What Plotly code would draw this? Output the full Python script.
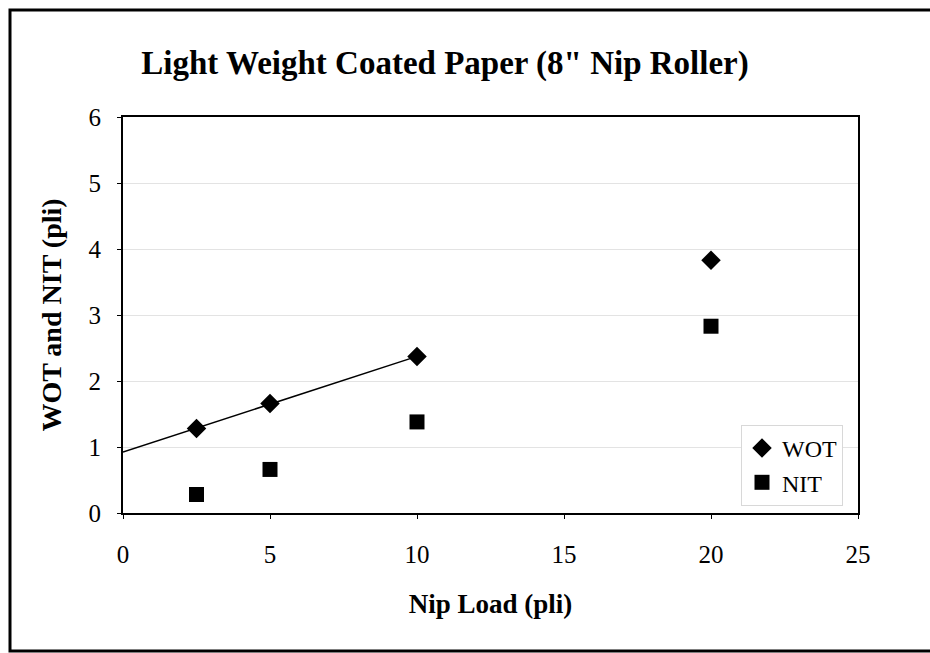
import numpy as np
import plotly.graph_objects as go

nip_load = [2.5, 5, 10, 20]
wot = [1.28, 1.66, 2.37, 3.83]
nit = [0.28, 0.66, 1.38, 2.83]
fit_n = 3  # trendline fitted to first three WOT points
x_ticks = [0, 5, 10, 15, 20, 25]
y_ticks = [0, 1, 2, 3, 4, 5, 6]

W, H = 930, 653
L, T = 123, 117
pw, ph = 735, 396
R, B = W - L - pw, H - T - ph

def px(x):
    return (x - L) / pw

def py(y):
    return (T + ph - y) / ph

font = "Liberation Serif, Times New Roman, serif"

coef = np.polyfit(nip_load[:fit_n], wot[:fit_n], 1)
fx = np.array([0, nip_load[fit_n - 1]])
fy = np.polyval(coef, fx)

fig = go.Figure()
fig.add_trace(go.Scatter(x=fx, y=fy, mode="lines", line=dict(color="black", width=1.5),
                         showlegend=False, hoverinfo="skip"))
fig.add_trace(go.Scatter(x=nip_load, y=wot, mode="markers", name="WOT",
                         marker=dict(symbol="diamond", size=15, color="black")))
fig.add_trace(go.Scatter(x=nip_load, y=nit, mode="markers", name="NIT",
                         marker=dict(symbol="square", size=15, color="black")))

fig.update_layout(
    width=W, height=H,
    margin=dict(l=L, r=R, t=T, b=B),
    paper_bgcolor="white", plot_bgcolor="white",
    font=dict(family=font, color="black"),
    title=dict(text="<b>Light Weight Coated Paper (8\" Nip Roller)</b>",
               font=dict(size=33, family=font, color="black"),
               x=445 / W, xanchor="center", y=1 - 62 / H, yanchor="middle"),
    xaxis=dict(range=[0, 25], tickvals=x_ticks, ticks="outside", ticklen=4, tickcolor="black",
               showline=True, linecolor="black", linewidth=2, mirror=True,
               showgrid=False, zeroline=False, tickfont=dict(size=25),
               ticklabelstandoff=14,
               title=dict(text="<b>Nip Load (pli)</b>", font=dict(size=27), standoff=27)),
    yaxis=dict(range=[0, 6], tickvals=y_ticks, ticks="outside", ticklen=4, tickcolor="black",
               showline=True, linecolor="black", linewidth=2, mirror=True,
               showgrid=True, gridcolor="#e3e3e3", gridwidth=1, zeroline=False,
               tickfont=dict(size=25), ticklabelstandoff=11,
               title=dict(text="<b>WOT and NIT (pli)</b>", font=dict(size=28), standoff=19)),
    legend=dict(x=px(741), y=py(425), xanchor="left", yanchor="top",
                bgcolor="white", bordercolor="#d8d8d8", borderwidth=1,
                font=dict(size=24, family=font), tracegroupgap=2),
    showlegend=True,
)

# outer frame (left, top, bottom) as one open path
xl, xr, yt, yb = px(10), px(932), py(10), py(651)
fig.add_shape(type="path", xref="paper", yref="paper",
              path=f"M {xr},{yt} L {xl},{yt} L {xl},{yb} L {xr},{yb}",
              line=dict(color="black", width=3))

fig.write_html("out.html", config={"displayModeBar": False},
               post_script="document.body.style.margin='0';document.body.style.overflow='hidden';")
